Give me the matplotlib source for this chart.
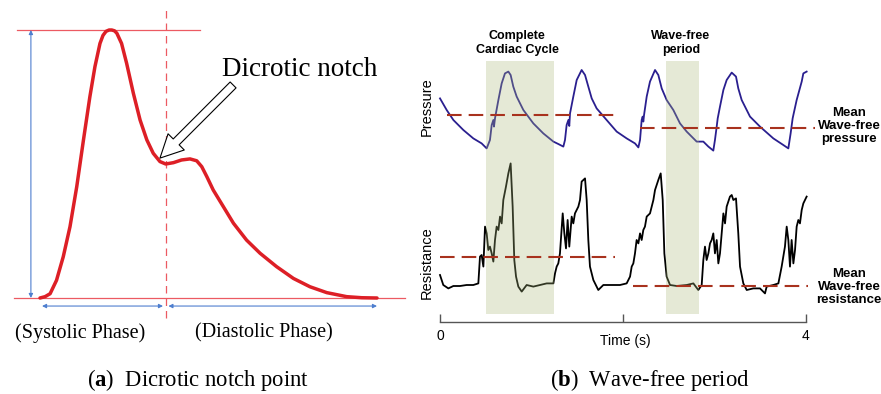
import numpy as np
import matplotlib.pyplot as plt

plt.rcParams["mathtext.fontset"] = "custom"
plt.rcParams["mathtext.rm"] = "Liberation Serif"
plt.rcParams["mathtext.bf"] = "Liberation Serif:bold"

# (a) normalised pulse waveform: fraction of cycle vs normalised amplitude
pulse_t = [0.000, 0.015, 0.030, 0.049, 0.069, 0.089, 0.109, 0.129, 0.148, 0.163,
           0.178, 0.187, 0.196, 0.205, 0.213, 0.221, 0.228, 0.242, 0.257, 0.277,
           0.297, 0.317, 0.336, 0.356, 0.373, 0.396, 0.420, 0.445, 0.465, 0.480,
           0.495, 0.514, 0.544, 0.574, 0.613, 0.653, 0.702, 0.752, 0.801, 0.851,
           0.910, 0.955, 1.000]
pulse_a = [0.000, 0.005, 0.016, 0.066, 0.154, 0.266, 0.415, 0.590, 0.751, 0.863,
           0.950, 0.980, 0.995, 1.000, 1.000, 0.997, 0.988, 0.950, 0.876, 0.764,
           0.664, 0.590, 0.540, 0.509, 0.500, 0.505, 0.515, 0.519, 0.512, 0.490,
           0.453, 0.403, 0.341, 0.279, 0.216, 0.167, 0.117, 0.073, 0.042, 0.020,
           0.005, 0.001, 0.000]

# (b) pressure trace (s, mmHg)
press_t = [0.000, 0.073, 0.146, 0.255, 0.364, 0.455, 0.510, 0.546, 0.565, 0.583,
           0.590, 0.601, 0.638, 0.674, 0.710, 0.747, 0.772, 0.801, 0.838, 0.911,
           1.020, 1.129, 1.239, 1.293, 1.348, 1.366, 1.384, 1.403, 1.413, 1.421,
           1.457, 1.494, 1.548, 1.585, 1.621, 1.658, 1.712, 1.821, 1.931, 2.040,
           2.131, 2.168, 2.186, 2.204, 2.215, 2.222, 2.230, 2.259, 2.295, 2.350,
           2.386, 2.423, 2.477, 2.550, 2.623, 2.696, 2.805, 2.878, 2.933, 2.987,
           3.005, 3.024, 3.035, 3.060, 3.097, 3.133, 3.188, 3.235, 3.260, 3.297,
           3.388, 3.497, 3.643, 3.752, 3.807, 3.832, 3.854, 3.862, 3.898, 3.953,
           3.971, 4.007]
press_v = [105.8, 100.0, 95.0, 90.0, 85.8, 83.3, 80.8, 85.0, 92.5, 95.0,
           91.7, 95.8, 105.0, 113.3, 118.3, 119.2, 117.5, 111.7, 106.7, 100.0,
           93.3, 88.3, 84.2, 83.0, 81.7, 85.0, 92.5, 95.0, 92.0, 98.3,
           106.7, 115.0, 120.0, 117.5, 111.7, 105.8, 100.8, 95.0, 89.2, 85.8,
           83.3, 81.3, 85.0, 95.0, 96.7, 94.2, 97.5, 106.7, 114.2, 120.0,
           117.5, 110.8, 105.0, 100.0, 93.3, 89.2, 84.2, 84.2, 81.7, 79.7,
           85.0, 91.7, 95.8, 101.7, 110.0, 115.0, 118.7, 116.7, 110.8, 105.0,
           96.7, 91.7, 85.8, 82.5, 80.8, 88.3, 95.8, 97.5, 105.0, 114.2,
           118.3, 119.2]

# (b) resistance trace (s, arbitrary units)
resist_t = [0.000, 0.036, 0.091, 0.146, 0.219, 0.291, 0.364, 0.419, 0.437, 0.455,
            0.474, 0.492, 0.510, 0.528, 0.546, 0.565, 0.583, 0.601, 0.619, 0.638,
            0.656, 0.674, 0.692, 0.721, 0.747, 0.772, 0.794, 0.812, 0.831, 0.856,
            0.893, 0.947, 1.020, 1.093, 1.166, 1.239, 1.257, 1.275, 1.293, 1.311,
            1.341, 1.359, 1.377, 1.395, 1.413, 1.439, 1.457, 1.475, 1.512, 1.530,
            1.548, 1.566, 1.585, 1.603, 1.621, 1.639, 1.676, 1.730, 1.785, 1.858,
            1.967, 2.040, 2.077, 2.095, 2.113, 2.131, 2.149, 2.168, 2.186, 2.204,
            2.222, 2.240, 2.259, 2.295, 2.332, 2.350, 2.386, 2.412, 2.434, 2.452,
            2.477, 2.514, 2.587, 2.696, 2.769, 2.823, 2.860, 2.878, 2.896, 2.914,
            2.933, 2.951, 2.969, 2.987, 3.005, 3.024, 3.042, 3.060, 3.078, 3.097,
            3.115, 3.133, 3.169, 3.188, 3.206, 3.235, 3.260, 3.279, 3.315, 3.352,
            3.424, 3.497, 3.552, 3.570, 3.643, 3.698, 3.734, 3.770, 3.789, 3.807,
            3.825, 3.843, 3.862, 3.880, 3.898, 3.916, 3.934, 3.953, 3.971, 4.007]
resist_v = [1.25, 0.75, 0.58, 0.70, 0.70, 0.75, 0.75, 0.83, 2.17, 2.25,
            1.67, 3.67, 3.33, 2.50, 2.67, 2.33, 1.92, 3.00, 3.67, 3.50,
            4.17, 3.83, 5.00, 5.67, 6.33, 6.83, 4.67, 2.00, 1.17, 0.67,
            0.42, 0.75, 0.67, 0.75, 0.83, 0.83, 1.33, 1.67, 1.83, 2.33,
            4.33, 3.33, 2.58, 4.00, 2.67, 4.17, 3.83, 4.33, 4.67, 5.00,
            5.92, 6.00, 6.08, 5.00, 3.00, 1.67, 1.00, 0.50, 0.75, 0.75,
            0.75, 0.83, 1.17, 1.67, 1.83, 2.33, 3.00, 2.83, 3.33, 3.00,
            3.50, 3.67, 4.17, 4.33, 5.00, 5.50, 6.00, 6.33, 5.00, 2.33,
            1.17, 0.75, 0.70, 0.75, 0.83, 0.50, 0.75, 2.00, 2.67, 2.00,
            2.33, 2.83, 3.00, 3.33, 2.33, 3.00, 1.83, 2.33, 3.33, 4.33,
            3.83, 4.67, 5.17, 5.25, 5.00, 5.08, 3.33, 1.67, 0.83, 0.50,
            0.58, 0.58, 0.33, 0.67, 0.75, 0.83, 1.67, 2.67, 3.67, 3.00,
            1.67, 3.00, 1.83, 2.50, 3.67, 4.00, 3.83, 4.50, 4.83, 5.17]

# mean levels: (value, start s, end s)
press_means = [(97.5, 0.073, 1.967), (91.2, 2.186, 4.098)]
resist_means = [(2.17, 0.000, 1.913), (0.70, 2.113, 4.026)]
cycle_span = (0.503, 1.246)
wavefree_span = (2.466, 2.827)

W, H = 881, 394
fig = plt.figure(figsize=(W / 100, H / 100), dpi=100)

serif = "Liberation Serif"
sans = "Liberation Sans"
red = "#dd1f26"
thin_red = "#ec5a62"
blue = "#4f7fcf"

# ---------- panel (a) ----------
ax_a = fig.add_axes([40 / W, (H - 298) / H, 337 / W, 268 / H])
ax_a.set_xlim(0, 1)
ax_a.set_ylim(0, 1)
ax_a.axis("off")

a = np.array(pulse_a)
peak = int(np.argmax(a))
i_notch = peak + int(np.argmax(np.diff(a[peak:]) > 0))
notch_t = pulse_t[i_notch]

ax_a.plot([-0.068, 0.475], [1, 1], color=thin_red, lw=0.9, clip_on=False)
ax_a.plot([-0.077, 1.083], [0, 0], color=thin_red, lw=0.9, clip_on=False)
ax_a.plot([notch_t, notch_t], [-0.075, 1.075], color=thin_red, lw=0.9,
          dashes=(6, 4), clip_on=False)
ax_a.plot(pulse_t, pulse_a, color=red, lw=2.5, solid_capstyle="round",
          solid_joinstyle="round", clip_on=False, zorder=3)

arr = dict(arrowstyle="<|-|>", color=blue, lw=0.8, mutation_scale=6,
           shrinkA=0, shrinkB=0)
ax_a.annotate("", xy=(-0.027, 0.0), xytext=(-0.027, 1.0), arrowprops=arr,
              annotation_clip=False)
ax_a.annotate("", xy=(0.006, -0.03), xytext=(notch_t - 0.008, -0.03),
              arrowprops=arr, annotation_clip=False)
ax_a.annotate("", xy=(notch_t + 0.008, -0.03), xytext=(1.0, -0.03),
              arrowprops=arr, annotation_clip=False)

ax_a.text(0.540, 0.851, "Dicrotic notch", fontsize=19.5, family=serif,
          ha="left", va="center")
ax_a.annotate("", xy=(notch_t - 0.017, pulse_a[i_notch] + 0.022),
              xytext=(0.573, 0.795),
              arrowprops=dict(arrowstyle="simple,head_length=1.1,head_width=1.1,tail_width=0.4",
                              fc="white", ec="black", lw=0.8, mutation_scale=15,
                              shrinkA=0, shrinkB=0),
              annotation_clip=False)
ax_a.text(0.120, -0.131, "(Systolic Phase)", fontsize=14.5, family=serif,
          ha="center", va="center")
ax_a.text(0.665, -0.131, "(Diastolic Phase)", fontsize=14.5, family=serif,
          ha="center", va="center")

# ---------- panel (b) ----------
left_b, width_b = 440 / W, 366 / W
ax_p = fig.add_axes([left_b, (H - 160) / H, width_b, 100 / H])
ax_p.set_xlim(0, 4)
ax_p.set_ylim(75, 125)
ax_p.axis("off")
ax_p.plot(press_t, press_v, color="#2a1f8f", lw=1.3, clip_on=False)

ax_r = fig.add_axes([left_b, (H - 300) / H, width_b, 140 / H])
ax_r.set_xlim(0, 4)
ax_r.set_ylim(0, 7)
ax_r.axis("off")
ax_r.plot(resist_t, resist_v, color="black", lw=1.3, clip_on=False)

ax_b = fig.add_axes([left_b, (H - 314) / H, width_b, 253 / H], zorder=3)
ax_b.patch.set_visible(False)
ax_b.set_xlim(0, 4)
ax_b.set_ylim(0, 1)
for span in (cycle_span, wavefree_span):
    ax_b.axvspan(span[0], span[1], color="#a9b97a", alpha=0.3, lw=0)

dash_red = "#a8321e"
for val, t0, t1 in press_means:
    ax_b.plot([t0, t1], [val, val], transform=ax_p.transData, color=dash_red,
              lw=1.5, dashes=(7, 3.4), clip_on=False)
for val, t0, t1 in resist_means:
    ax_b.plot([t0, t1], [val, val], transform=ax_r.transData, color=dash_red,
              lw=1.5, dashes=(7, 3.4), clip_on=False)

for s in ("top", "right", "left"):
    ax_b.spines[s].set_visible(False)
ax_b.spines["bottom"].set_position(("outward", 5.8))
ax_b.spines["bottom"].set_color("#555555")
ax_b.spines["bottom"].set_linewidth(1.0)
ax_b.set_yticks([])
ax_b.set_xticks([0, 2, 4])
ax_b.set_xticklabels(["0", "", "4"], family=sans, fontsize=10)
ax_b.tick_params(axis="x", direction="in", length=5.8, width=1.0,
                 color="#555555", pad=5)

fig.text(625 / W, 1 - 341 / H, "Time (s)", family=sans, fontsize=10,
         ha="center", va="center")
fig.text(427 / W, 1 - 107 / H, "Pressure", family=sans, fontsize=10.5,
         rotation=90, ha="center", va="center")
fig.text(427 / W, 1 - 263 / H, "Resistance", family=sans, fontsize=10.5,
         rotation=90, ha="center", va="center")
fig.text(517 / W, 1 - 43 / H, "Complete\nCardiac Cycle", family=sans,
         fontsize=9, weight="bold", ha="center", va="center", linespacing=1.15)
fig.text(681 / W, 1 - 43 / H, "Wave-free\nperiod", family=sans,
         fontsize=9, weight="bold", ha="center", va="center", linespacing=1.15)
fig.text(849 / W, 1 - 126 / H, "Mean\nWave-free\npressure", family=sans,
         fontsize=9.5, weight="bold", ha="center", va="center", linespacing=1.1)
fig.text(849 / W, 1 - 287 / H, "Mean\nWave-free\nresistance", family=sans,
         fontsize=9.5, weight="bold", ha="center", va="center", linespacing=1.1)

# captions
fig.text(198 / W, 1 - 380 / H, r"($\mathbf{a}$)  Dicrotic notch point",
         family=serif, fontsize=16.3, ha="center", va="center")
fig.text(650 / W, 1 - 380 / H, r"($\mathbf{b}$)  Wave-free period",
         family=serif, fontsize=16.3, ha="center", va="center")

fig.savefig("out.png", dpi=100)
